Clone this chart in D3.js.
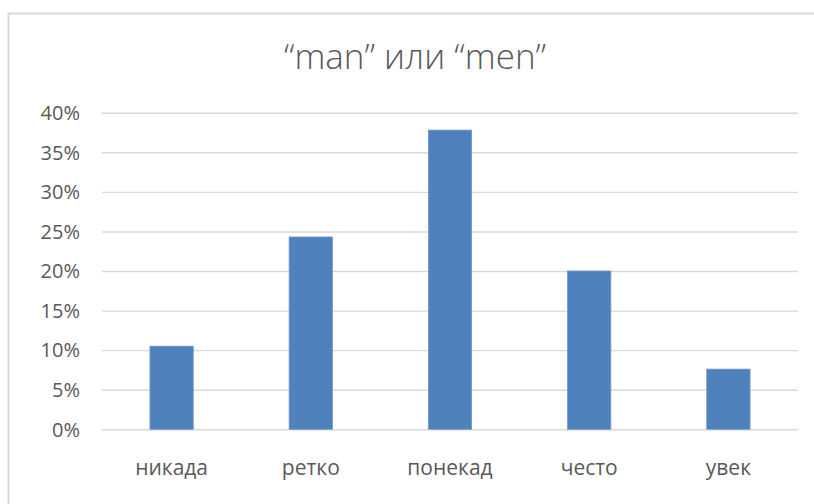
<!DOCTYPE html>
<html>
<head>
<meta charset="utf-8">
<script src="https://cdn.jsdelivr.net/npm/d3@7/dist/d3.min.js"></script>
<style>
  html, body { margin: 0; padding: 0; background: #fff; }
  svg { display: block; }
</style>
</head>
<body>
<svg id="chart" width="814" height="504"></svg>
<script>
// Survey answers: how often "man" / "men" is used
const title = "\u201Cman\u201D или \u201Cmen\u201D";
const categories = ["никада", "ретко", "понекад", "често", "увек"];
const shares = [0.105, 0.243, 0.378, 0.200, 0.076];
const yTicks = [0, 0.05, 0.10, 0.15, 0.20, 0.25, 0.30, 0.35, 0.40];

const svg = d3.select("#chart");
const W = 814, H = 504;
const plot = { left: 102, right: 798, top: 112.7, bottom: 429.3 };

const font = "'Open Sans', sans-serif";
const textColor = "#595959";

// chart frame (runs off the right and bottom edge)
svg.append("rect")
  .attr("x", 8.5).attr("y", 13.5)
  .attr("width", W).attr("height", H)
  .attr("fill", "#fff")
  .attr("stroke", "#d9d9d9")
  .attr("stroke-width", 2);

const x = d3.scaleBand()
  .domain(categories)
  .range([plot.left, plot.right])
  .paddingInner(0.689)
  .paddingOuter(0.3445);

const y = d3.scaleLinear()
  .domain([0, 0.4])
  .range([plot.bottom, plot.top]);

// horizontal gridlines + percentage labels
const yAxis = d3.axisLeft(y)
  .tickValues(yTicks)
  .tickFormat(d3.format(".0%"))
  .tickSize(-(plot.right - plot.left))
  .tickPadding(22);

const gy = svg.append("g")
  .attr("transform", `translate(${plot.left},0)`)
  .call(yAxis);
gy.select(".domain").remove();
gy.selectAll(".tick line")
  .attr("stroke", "#d9d9d9")
  .attr("stroke-width", 1.4);
gy.selectAll(".tick text")
  .attr("fill", textColor)
  .attr("font-family", font)
  .attr("font-size", 20)
  .attr("dy", "0.34em");

// bars
svg.append("g")
  .selectAll("rect")
  .data(shares)
  .join("rect")
  .attr("x", (d, i) => x(categories[i]))
  .attr("y", d => y(d))
  .attr("width", x.bandwidth())
  .attr("height", d => y(0) - y(d))
  .attr("fill", "#4f81bd")
  .attr("stroke", "#6f97c9")
  .attr("stroke-width", 0.8);

// category labels
const xAxis = d3.axisBottom(x).tickSize(0).tickPadding(0);
const gx = svg.append("g")
  .attr("transform", `translate(0,${plot.bottom})`)
  .call(xAxis);
gx.select(".domain").remove();
gx.selectAll(".tick text")
  .attr("fill", textColor)
  .attr("font-family", font)
  .attr("font-size", 21)
  .attr("y", 46)
  .attr("dy", 0);

// title
svg.append("text")
  .attr("x", 415)
  .attr("y", 69)
  .attr("text-anchor", "middle")
  .attr("fill", textColor)
  .attr("font-family", font)
  .attr("font-weight", 300)
  .attr("font-size", 35)
  .text(title);
</script>
</body>
</html>
